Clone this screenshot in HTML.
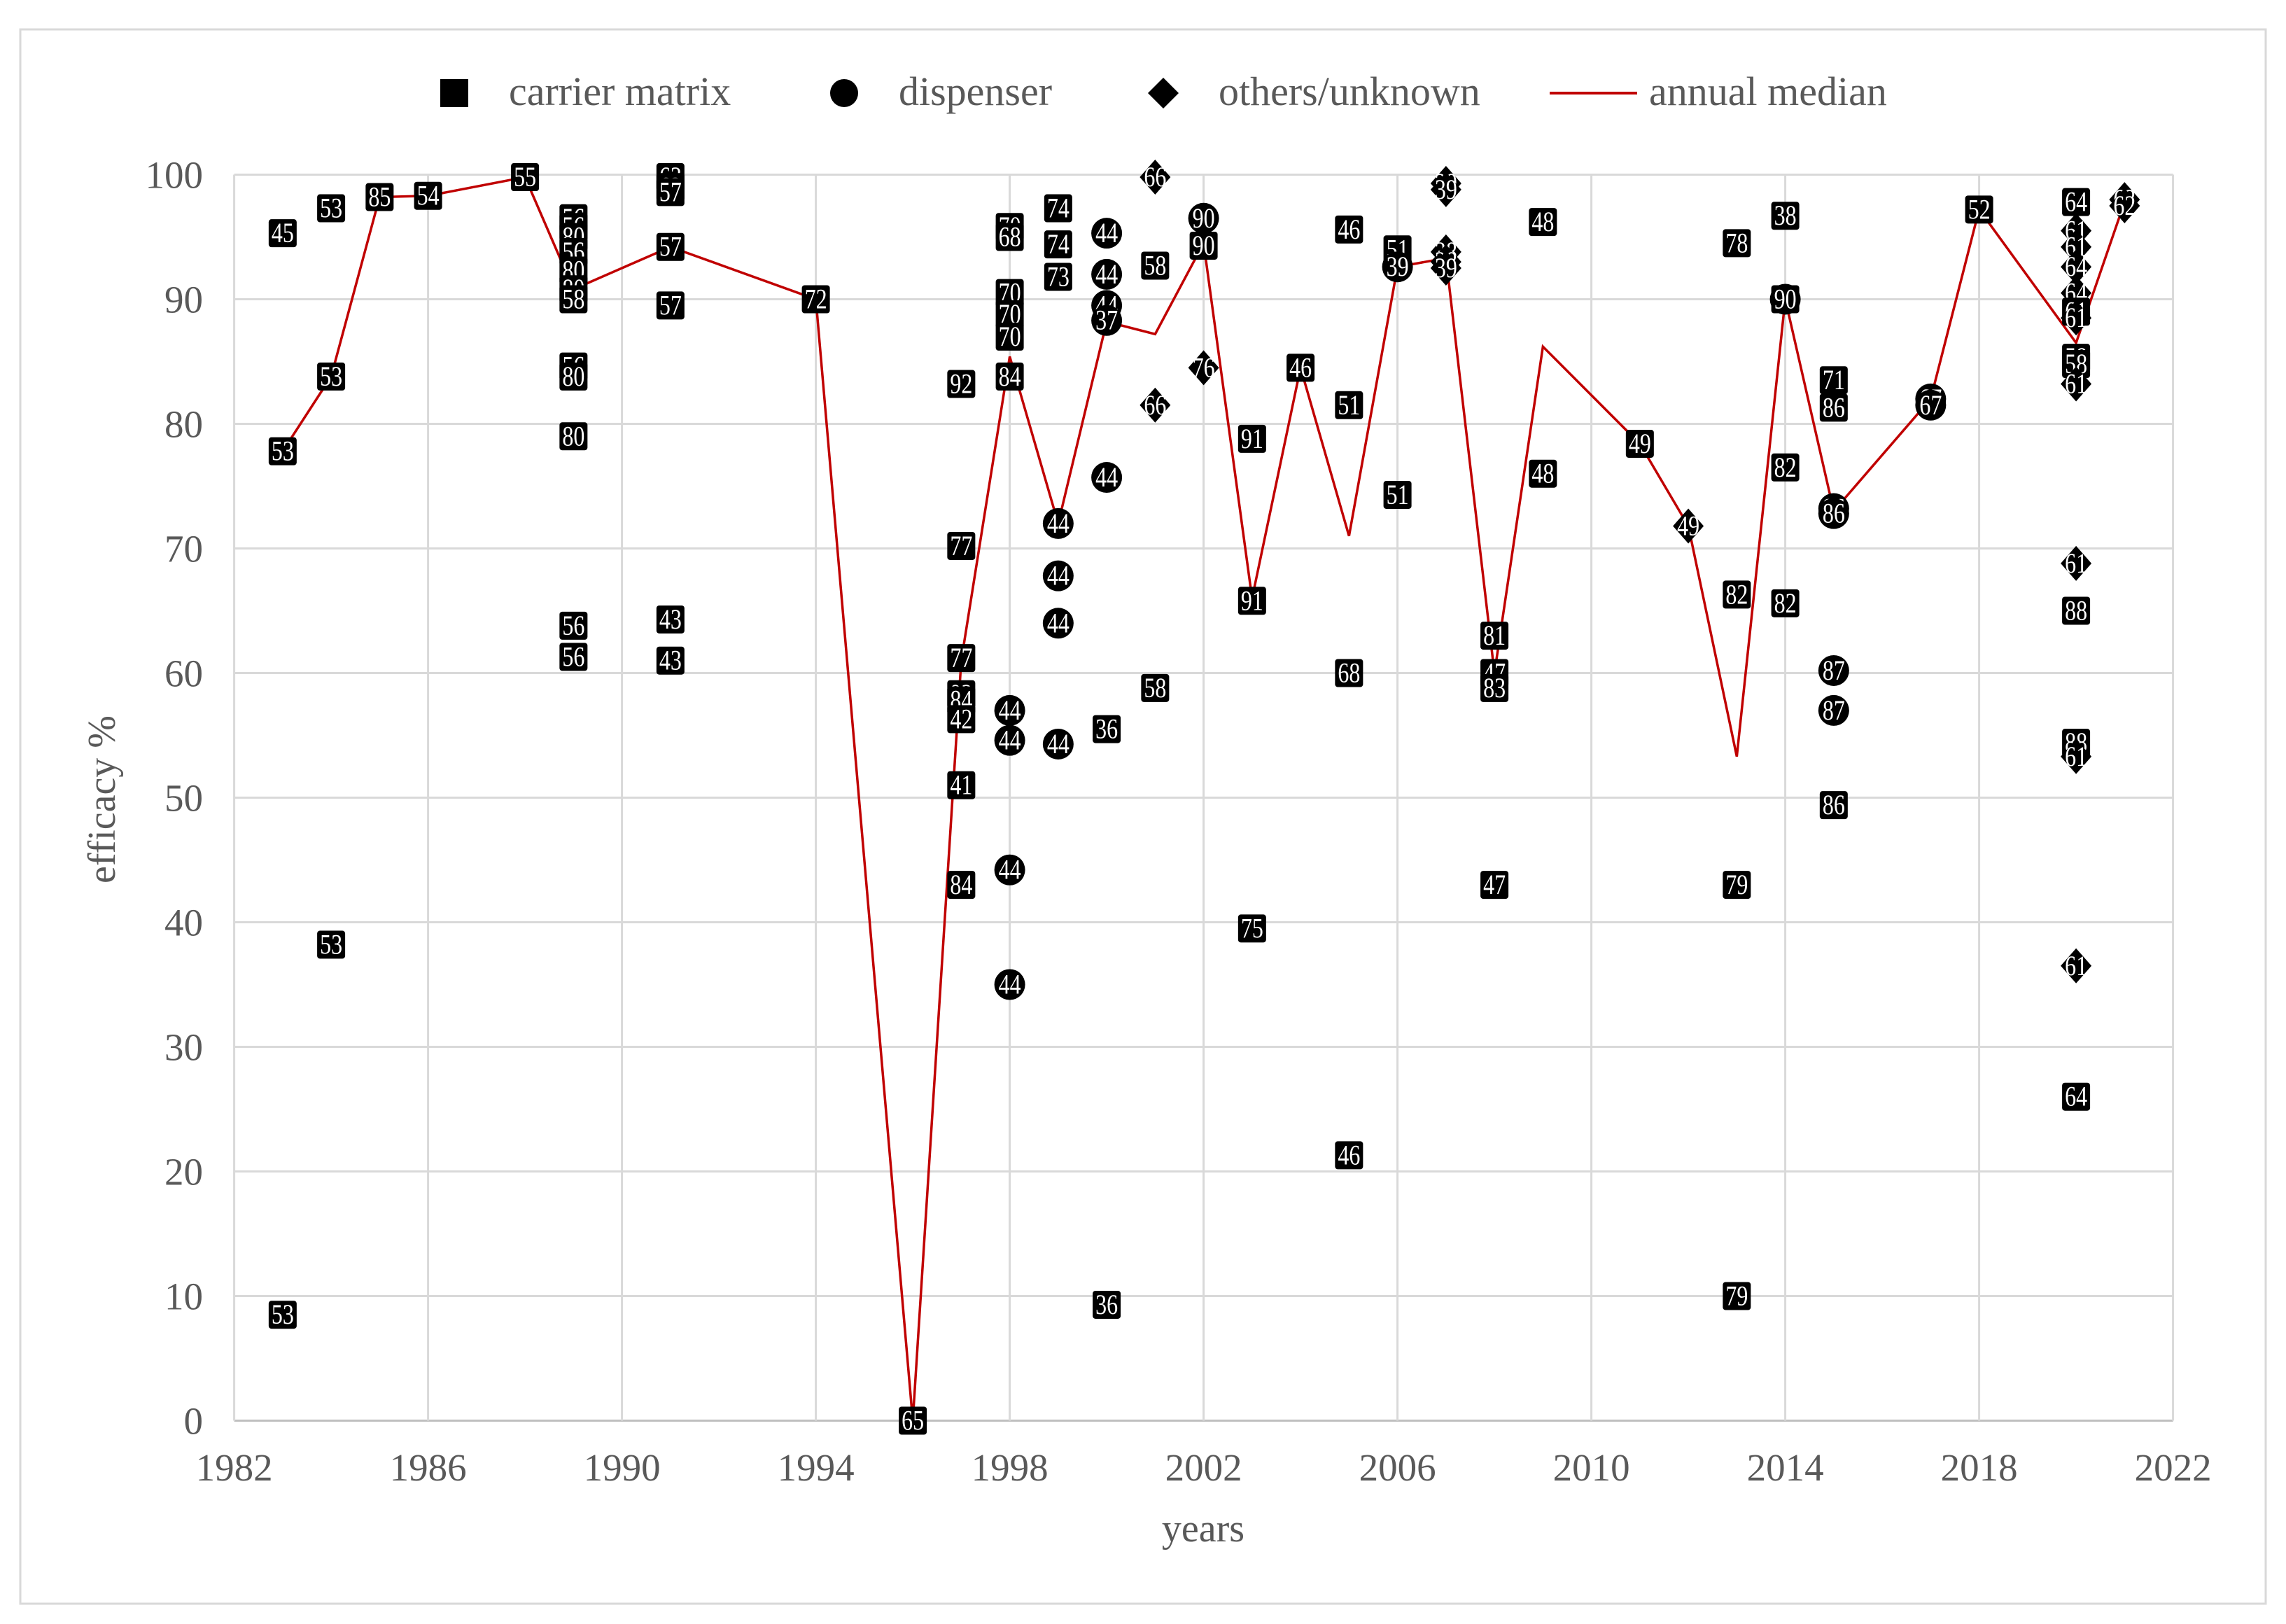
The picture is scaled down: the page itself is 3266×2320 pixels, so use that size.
<!DOCTYPE html>
<html><head><meta charset="utf-8"><style>
html,body{margin:0;padding:0;background:#fff}
svg{display:block}
text{font-family:"Liberation Serif",serif}
</style></head><body>
<svg id="chart" width="3266" height="2320" viewBox="0 0 3266 2320" xmlns="http://www.w3.org/2000/svg">
<rect x="29" y="42" width="3208" height="2249" fill="#fff" stroke="#d9d9d9" stroke-width="3"/>
<g id="grid"></g><g id="axes"></g><g id="line"></g><g id="marks"></g>
<g id="legend">
<rect x="629" y="113" width="40" height="40" fill="#000"/>
<text x="727" y="150" font-size="58" fill="#595959">carrier matrix</text>
<circle cx="1206" cy="133" r="20" fill="#000"/>
<text x="1284" y="150" font-size="58" fill="#595959">dispenser</text>
<polygon points="1662,111 1684,133 1662,155 1640,133" fill="#000"/>
<text x="1741" y="150" font-size="58" fill="#595959">others/unknown</text>
<line x1="2214" y1="133" x2="2339" y2="133" stroke="#c00000" stroke-width="4"/>
<text x="2356" y="150" font-size="58" fill="#595959">annual median</text>
</g>
<text x="1719" y="2202" font-size="56" fill="#595959" text-anchor="middle">years</text>
<text transform="translate(164,1142) rotate(-90)" font-size="56" fill="#595959" text-anchor="middle">efficacy %</text>
</svg>
<script>
const xTicks=[1982,1986,1990,1994,1998,2002,2006,2010,2014,2018,2022];
const yTicks=[0,10,20,30,40,50,60,70,80,90,100];
const medianYears=[1983,1984,1985,1986,1988,1989,1991,1994,1996,1997,1998,1999,2000,2001,2002,2003,2004,2005,2006,2007,2008,2009,2011,2012,2013,2014,2015,2017,2018,2020,2021];
const medianVals=[77.8,83.8,98.2,98.3,99.8,90.8,94.2,90,0,61,85.4,72,88.2,87.2,94.5,66,84.5,71,92.6,93.3,60,86.2,78.4,71.8,53.3,90,73,82,97.2,86.5,97.8];
const pointYears=[1983,1983,1983,1984,1984,1984,1985,1986,1988,
1989,1989,1989,1989,1989,1989,1989,1989,1989,1989,1989,1989,
1991,1991,1991,1991,1991,1991,1991,1994,1996,
1997,1997,1997,1997,1997,1997,1997,1997,
1998,1998,1998,1998,1998,1998,1998,1998,1998,1998,
1999,1999,1999,1999,1999,1999,1999,
2000,2000,2000,2000,2000,2000,2000,
2001,2001,2001,2001,2002,2002,2002,2003,2003,2003,2004,
2005,2005,2005,2005,2006,2006,2006,2007,2007,2007,2007,2007,
2008,2008,2008,2008,2009,2009,2011,2012,2013,2013,2013,2013,
2014,2014,2014,2014,2014,2015,2015,2015,2015,2015,2015,2015,
2017,2017,2018,
2020,2020,2020,2020,2020,2020,2020,2020,2020,2020,2020,2020,2020,2020,2020,2020,
2021,2021];
const pointVals=[95.3,77.8,8.5,97.3,83.8,38.2,98.2,98.3,99.8,
96.5,95.8,95,93.8,92.3,90.8,90,84.6,83.8,79,63.8,61.3,
99.8,99,98.6,94.2,89.5,64.3,61,90,0,
83.2,70.2,61.2,58.3,57.8,56.3,51,43,
95.8,95,90.5,88.8,87,83.8,57,54.6,44.2,35,
97.3,94.4,91.8,72,67.8,64,54.3,
95.3,92,89.5,88.3,75.7,55.5,9.3,
99.8,92.7,81.5,58.8,96.5,94.3,84.5,78.8,65.8,39.5,84.5,
95.6,81.5,60,21.3,94,92.6,74.3,99.3,98.8,93.8,93,92.5,
63,60,58.8,43,96.2,76,78.4,71.8,94.5,66.3,43,10,
96.7,90,90,76.5,65.6,83.5,81.3,73.2,72.8,60.2,57,49.4,
82,81.5,97.2,
97.8,95.5,94.2,92.6,90.5,89,88.5,85.3,84.8,83.2,68.8,65,54.4,53.3,36.5,26,
98,97.5];
const pointTypes=["s","s","s","s","s","s","s","s","s",
"s","s","s","s","s","s","s","s","s","s","s","s",
"s","s","s","s","s","s","s","s","s",
"s","s","s","s","s","s","s","s",
"s","s","s","s","s","s","c","c","c","c",
"s","s","s","c","c","c","c",
"c","c","c","c","c","s","s",
"d","s","d","s","c","s","d","s","s","s","s",
"s","s","s","s","s","c","s","d","d","d","d","d",
"s","s","s","s","s","s","s","d","s","s","s","s",
"s","c","s","s","s","s","s","c","c","c","c","s",
"c","c","s",
"s","d","d","d","d","s","d","s","s","d","d","s","s","d","d","s",
"d","d"];
const pointLabels=["45","53","53","53","53","53","85","54","55",
"56","56","80","56","80","80","58","56","80","80","56","56",
"63","63","57","57","57","43","43","72","65",
"92","77","77","92","84","42","41","84",
"70","68","70","70","70","84","44","44","44","44",
"74","74","73","44","44","44","44",
"44","44","44","37","44","36","36",
"66","58","66","58","90","90","76","91","91","75","46",
"46","51","68","46","51","39","51","39","39","38","38","39",
"81","47","83","47","48","48","49","49","78","82","79","79",
"38","89","90","82","82","71","86","86","86","87","87","86",
"67","67","52",
"64","61","61","64","64","61","61","58","58","61","61","88","88","61","61","64",
"63","62"];

const NS="http://www.w3.org/2000/svg";
const X0=334.6,PX_YR=69.25,Y0=2029.5,PX_U=17.8;
function xs(y){return X0+(y-1982)*PX_YR;}
function ys(v){return Y0-v*PX_U;}
function mk(tag,attrs,parent){const e=document.createElementNS(NS,tag);for(const k in attrs)e.setAttribute(k,attrs[k]);parent.appendChild(e);return e;}
const grid=document.getElementById('grid'),axes=document.getElementById('axes');
yTicks.forEach(t=>{
  const l=mk('line',{x1:xs(1982),x2:xs(2022),y1:ys(t),y2:ys(t),stroke:t===0?'#bfbfbf':'#d9d9d9','stroke-width':3},grid);
  
  
  const tx=mk('text',{x:290,y:ys(t)+19,'font-size':55,fill:'#595959','text-anchor':'end'},axes);
  tx.textContent=t;
  
  
});
xTicks.forEach(t=>{
  const l=mk('line',{x1:xs(t),x2:xs(t),y1:ys(100),y2:ys(0),stroke:'#d9d9d9','stroke-width':3},grid);
  
  
  const tx=mk('text',{x:xs(t),y:2115,'font-size':55,fill:'#595959','text-anchor':'middle'},axes);
  tx.textContent=t;
  
  
});
const pl=mk('polyline',{points:medianYears.map((y,i)=>xs(y)+','+ys(medianVals[i])).join(' '),fill:'none',stroke:'#c00000','stroke-width':3.5},document.getElementById('line'));


const marks=document.getElementById('marks');
pointYears.forEach((yr,i)=>{
  const cx=xs(yr),cy=ys(pointVals[i]),t=pointTypes[i];
  const g=mk('g',{},marks);
  
  
  if(t==='s')mk('rect',{x:cx-20,y:cy-20,width:40,height:40,rx:4,fill:'#000'},g);
  else if(t==='c')mk('circle',{cx:cx,cy:cy,r:22,fill:'#000'},g);
  else mk('polygon',{points:`${cx},${cy-25} ${cx+22},${cy} ${cx},${cy+25} ${cx-22},${cy}`,fill:'#000'},g);
  const tx=mk('text',{x:cx,y:cy+13,'font-size':40,fill:'#fff','text-anchor':'middle',transform:`translate(${cx},0) scale(0.8,1) translate(${-cx},0)`},g);
  tx.textContent=pointLabels[i];
});
</script>
</body></html>
